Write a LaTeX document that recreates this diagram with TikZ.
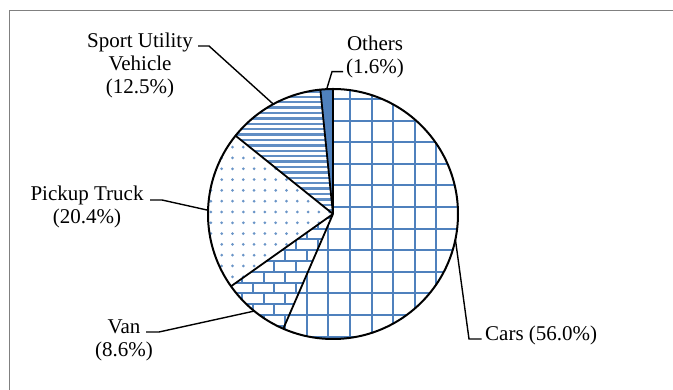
\documentclass[tikz,border=0pt]{standalone}
\usepackage{fontspec}
\setmainfont{Liberation Serif}
\usepackage{tikz}

\definecolor{pblue}{RGB}{79,129,189}
\newcommand\slicepath[2]{(0,0) -- (#1:125) arc[start angle=#1, end angle=#2, radius=125] -- cycle}

\tikzset{
  lbl/.style={font=\fontsize{21}{23}\selectfont, align=center, inner sep=0pt},
  hatch/.style={pblue, line width=2pt},
  edge/.style={line width=1.8pt},
  leader/.style={line width=1.4pt}
}

\begin{document}
\begin{tikzpicture}[x=1pt,y=1pt]
\useasboundingbox (0,0) rectangle (673,390);

\draw [gray, line width=1.5pt] (9.5,-5) -- (9.5,379.7) -- (680,379.7) ;

\begin{scope}[shift={(333,176)}]
% cars, large grid
\begin{scope}
\clip \slicepath{90}{-113.43};
\foreach \k in {-7,...,7} {
  \draw [hatch] (-4.7+21.6*\k,-130) -- (-4.7+21.6*\k,130) ;
  \draw [hatch] (-130,7+21.6*\k) -- (130,7+21.6*\k) ;
}
\end{scope}
% van, bricks
\begin{scope}
\clip \slicepath{-113.43}{-144.67};
\foreach \r in {-13,...,0} {
  \draw [hatch] (-130,7+10.8*\r) -- (10,7+10.8*\r) ;
  \pgfmathsetmacro\off{mod(abs(\r),2)*10.8}
  \foreach \k in {-7,...,1}
    \draw [hatch] (-4.7+21.6*\k+\off,7+10.8*\r) -- (-4.7+21.6*\k+\off,7+10.8*\r-10.8) ;
}
\end{scope}
% pickup, dots
\begin{scope}
\clip \slicepath{-144.67}{-218.78};
\foreach \i in {-12,...,1}
  \foreach \j in {-8,...,8}
    \fill [pblue!85] (-3.3+10.8*\i,2+10.8*\j) circle [radius=1.5] ;
\end{scope}
% suv, stripes
\begin{scope}
\clip \slicepath{-218.78}{-264.19};
\foreach \k in {-5,...,24}
  \draw [pblue!90, line width=2.4pt] (-130,3.7+5.4*\k) -- (10,3.7+5.4*\k) ;
\end{scope}
% others
\fill [pblue] \slicepath{-264.19}{-270};

\draw [edge] (0,0) -- (90:125) (0,0) -- (-113.43:125) (0,0) -- (-144.67:125)
  (0,0) -- (-218.78:125) (0,0) -- (-264.19:125) ;
\draw [line width=2pt] (0,0) circle [radius=125] ;

\coordinate (p-cars) at (-11.72:125) ;
\coordinate (p-van) at (-129.05:125) ;
\coordinate (p-pick) at (-181.72:125) ;
\coordinate (p-suv) at (118.51:125) ;
\coordinate (p-oth) at (92.9:125) ;
\end{scope}

\node [lbl, anchor=base] (suv) at (140,296) {Sport Utility\\Vehicle\\(12.5\%)} ;
\node [lbl, anchor=base] (oth) at (375,316.3) {Others\\(1.6\%)} ;
\node [lbl, anchor=base] (pick) at (87,166.3) {Pickup Truck\\(20.4\%)} ;
\node [lbl, anchor=base] (van) at (124,33.7) {Van\\(8.6\%)} ;
\node [lbl, anchor=base west] (cars) at (485,49.3) {Cars (56.0\%)} ;

\coordinate (l-suv) at (198,344) ;
\coordinate (l-oth) at (343,318.3) ;
\coordinate (l-pick) at (150,190) ;
\coordinate (l-van) at (146,58) ;
\coordinate (l-cars) at (481.7,51) ;

\draw [leader] (l-suv) -- ++(11,0) -- (p-suv) ;
\draw [leader] (l-oth) -- ++(-11,0) -- (p-oth) ;
\draw [leader] (l-pick) -- ++(12,0) -- (p-pick) ;
\draw [leader] (l-van) -- ++(13,0) -- (p-van) ;
\draw [leader] (l-cars) -- ++(-12.7,0) -- (p-cars) ;
\end{tikzpicture}
\end{document}
